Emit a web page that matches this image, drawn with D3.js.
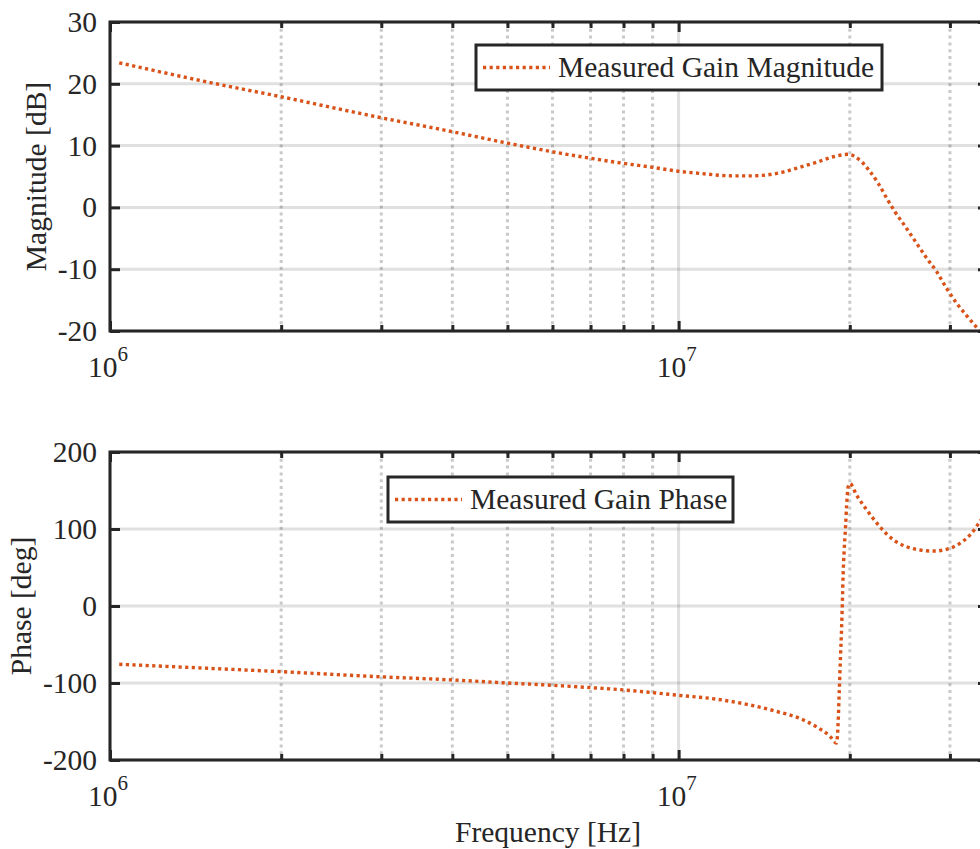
<!DOCTYPE html>
<html>
<head>
<meta charset="utf-8">
<script src="https://cdn.jsdelivr.net/npm/d3@7/dist/d3.min.js"></script>
<style>
  html, body { margin: 0; padding: 0; background: #fff; }
  svg { display: block; }
  svg text { font-family: "Liberation Serif", "Times New Roman", serif !important; fill: #262626; }
</style>
</head>
<body>
<svg id="chart" width="980" height="849"></svg>
<script>
// Measured frequency response (Bode plot)
const magFreq = [1.038e6, 1.5e6, 2e6, 3e6, 4e6, 5e6, 6e6, 7e6, 8e6, 9e6, 1e7,
  1.09e7, 1.246e7, 1.335e7, 1.489e7, 1.634e7, 1.748e7, 1.87e7, 1.995e7, 2.042e7,
  2.098e7, 2.17e7, 2.244e7, 2.322e7, 2.401e7, 2.517e7, 2.621e7, 2.73e7, 2.843e7,
  2.96e7, 3.083e7, 3.209e7, 3.342e7, 3.45e7];
const magDb = [23.4, 20.2, 17.9, 14.5, 12.25, 10.4, 9.0, 7.95, 7.13, 6.48, 5.85,
  5.5, 5.1, 5.1, 5.5, 6.5, 7.3, 8.2, 8.6, 8.2,
  7.4, 5.8, 3.9, 1.5, -0.7, -3.4, -5.8, -8.2, -10.4,
  -13.1, -15.5, -17.5, -19.4, -20.8];

const phFreq = [1.038e6, 1.5e6, 2e6, 3e6, 4e6, 5e6, 6e6, 7e6, 8e6, 9e6, 1e7,
  1.166e7, 1.335e7, 1.489e7, 1.634e7, 1.748e7, 1.845e7, 1.895e7, 1.904e7, 1.916e7,
  1.926e7, 1.935e7, 1.942e7, 1.947e7, 1.955e7, 1.966e7, 1.974e7, 1.987e7, 2.001e7,
  2.056e7, 2.141e7, 2.259e7, 2.385e7, 2.517e7, 2.657e7, 2.804e7, 2.96e7, 3.123e7,
  3.252e7, 3.387e7, 3.5e7];
const phDeg = [-75.7, -81, -85.3, -92, -96, -100, -103, -106, -109, -112.5, -116,
  -121, -128.6, -137, -146, -157, -169, -178, -165, -113,
  -66, -27, 12, 42, 73, 103, 129, 155, 159,
  144, 125, 103, 86, 77, 72.7, 71.4, 73.6, 81.4,
  92, 109.5, 125];

const magTicks = [-20, -10, 0, 10, 20, 30];
const phTicks = [-200, -100, 0, 100, 200];
const decadeTicks = [1e6, 1e7];
const decadeExps = ["6", "7"];
const minorTicks = [2e6, 3e6, 4e6, 5e6, 6e6, 7e6, 8e6, 9e6, 2e7, 3e7];

const svg = d3.select("#chart");
const AX = "#262626";
const LINE = "#D95319";
const FS = 29.5;
const SERIF = '"Liberation Serif", "Times New Roman", serif';

const left = 110, right = 988;
const x = d3.scaleLog().domain([1e6, 3.5e7]).range([left, right]);

function panel(cfg) {
  const { top, bottom, domain, ticks, freq, vals, ylabel, ylabelX, legend } = cfg;
  const y = d3.scaleLinear().domain(domain).range([bottom, top]);
  const g = svg.append("g");
  const clipId = "clip" + top;
  g.append("clipPath").attr("id", clipId)
    .append("rect").attr("x", left).attr("y", top)
    .attr("width", right - left).attr("height", bottom - top);

  // grid
  const grid = g.append("g");
  grid.selectAll("line.hg").data(ticks).join("line")
    .attr("x1", left).attr("x2", right)
    .attr("y1", d => y(d)).attr("y2", d => y(d))
    .attr("stroke", "rgba(38,38,38,0.14)").attr("stroke-width", 3);
  grid.selectAll("line.vmaj").data(decadeTicks).join("line")
    .attr("x1", d => x(d)).attr("x2", d => x(d))
    .attr("y1", top).attr("y2", bottom)
    .attr("stroke", "rgba(38,38,38,0.14)").attr("stroke-width", 3);
  grid.selectAll("line.vmin").data(minorTicks).join("line")
    .attr("x1", d => x(d)).attr("x2", d => x(d))
    .attr("y1", top).attr("y2", bottom)
    .attr("stroke", "rgba(38,38,38,0.25)").attr("stroke-width", 3)
    .attr("stroke-dasharray", "3,3.8");

  // data line
  const pts = freq.map((f, i) => [f, vals[i]]);
  g.append("path")
    .attr("clip-path", `url(#${clipId})`)
    .attr("d", d3.line().x(d => x(d[0])).y(d => y(d[1])).curve(d3.curveMonotoneX)(pts))
    .attr("fill", "none").attr("stroke", LINE).attr("stroke-width", 3.4)
    .attr("stroke-dasharray", "3.2,3.4");

  // axes with inward ticks
  const yl = d3.axisLeft(y).tickValues(ticks).tickSizeInner(-10).tickSizeOuter(0)
    .tickPadding(13).tickFormat(d => String(d));
  const ga = g.append("g").attr("transform", `translate(${left},0)`).call(yl)
    .attr("font-family", SERIF).attr("font-size", FS);
  ga.selectAll("text").attr("fill", AX);
  const yr = d3.axisRight(y).tickValues(ticks).tickSizeInner(-10).tickSizeOuter(0).tickFormat("");
  g.append("g").attr("transform", `translate(${right},0)`).call(yr);
  const xbMaj = d3.axisBottom(x).tickValues(decadeTicks).tickSizeInner(-10).tickSizeOuter(0).tickFormat("");
  const xbMin = d3.axisBottom(x).tickValues(minorTicks).tickSizeInner(-6).tickSizeOuter(0).tickFormat("");
  const xtMaj = d3.axisTop(x).tickValues(decadeTicks).tickSizeInner(-10).tickSizeOuter(0).tickFormat("");
  const xtMin = d3.axisTop(x).tickValues(minorTicks).tickSizeInner(-6).tickSizeOuter(0).tickFormat("");
  g.append("g").attr("transform", `translate(0,${bottom})`).call(xbMaj);
  g.append("g").attr("transform", `translate(0,${bottom})`).call(xbMin);
  g.append("g").attr("transform", `translate(0,${top})`).call(xtMaj);
  g.append("g").attr("transform", `translate(0,${top})`).call(xtMin);
  g.selectAll(".domain").remove();
  g.selectAll(".tick line").attr("stroke", AX).attr("stroke-width", 3);

  // frame
  g.append("rect").attr("x", left).attr("y", top)
    .attr("width", right - left).attr("height", bottom - top)
    .attr("fill", "none").attr("stroke", AX).attr("stroke-width", 3);

  // decade labels 10^n
  decadeTicks.forEach((d, i) => {
    const t = g.append("text").attr("x", x(d) - 2).attr("y", bottom + 46)
      .attr("text-anchor", "middle").style("font-size", FS + "px");
    t.append("tspan").text("10");
    t.append("tspan").attr("dy", -16).style("font-size", "21px").text(decadeExps[i]);
  });

  // y label
  g.append("text")
    .attr("transform", `translate(${ylabelX},${(top + bottom) / 2}) rotate(-90)`)
    .attr("text-anchor", "middle").style("font-size", FS + "px").text(ylabel);

  // legend
  const lg = g.append("g");
  lg.append("rect").attr("x", legend.x).attr("y", legend.y)
    .attr("width", legend.w).attr("height", 45)
    .attr("fill", "#fff").attr("stroke", AX).attr("stroke-width", 3);
  lg.append("line").attr("x1", legend.x + 7).attr("x2", legend.x + 74)
    .attr("y1", legend.y + 22.5).attr("y2", legend.y + 22.5)
    .attr("stroke", LINE).attr("stroke-width", 3.4).attr("stroke-dasharray", "3.2,3.4");
  lg.append("text").attr("x", legend.x + 82).attr("y", legend.y + 32)
    .style("font-size", FS + "px").text(legend.text);
}

panel({
  top: 22, bottom: 331, domain: [-20, 30], ticks: magTicks,
  freq: magFreq, vals: magDb, ylabel: "Magnitude [dB]", ylabelX: 46,
  legend: { x: 476, y: 45, w: 406, text: "Measured Gain Magnitude" }
});
panel({
  top: 452, bottom: 760, domain: [-200, 200], ticks: phTicks,
  freq: phFreq, vals: phDeg, ylabel: "Phase [deg]", ylabelX: 31,
  legend: { x: 388, y: 477, w: 345, text: "Measured Gain Phase" }
});

svg.append("text").attr("x", 548).attr("y", 842)
  .attr("text-anchor", "middle").style("font-size", FS + "px").text("Frequency [Hz]");
</script>
</body>
</html>
